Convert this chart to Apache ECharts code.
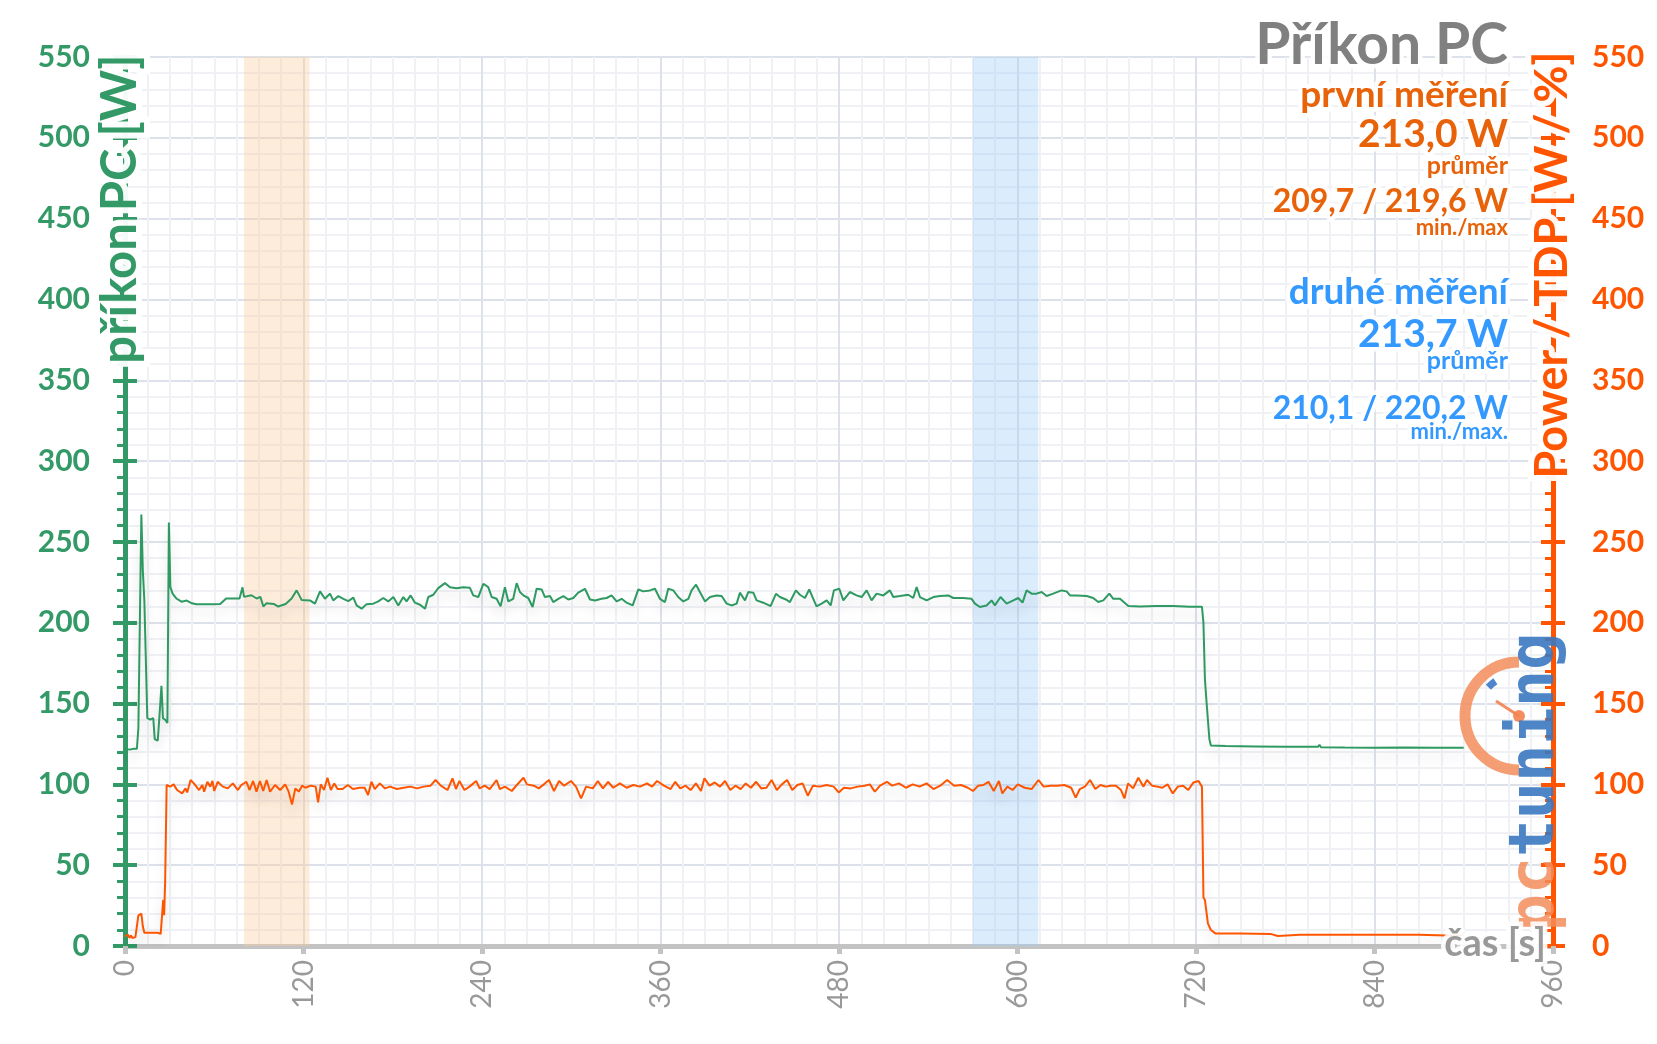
<!DOCTYPE html>
<html>
<head>
<meta charset="utf-8">
<script src="https://cdn.jsdelivr.net/npm/echarts@6/dist/echarts.min.js"></script>
<style>html,body{margin:0;padding:0;background:#fff}#c{width:1657px;height:1044px}</style>
</head>
<body>
<div id="c"></div>
<script>
// ---- data ----
const greenT = [0,3,6,8,9,10,11,12,13,14,15,17,19,20,22,23,24.5,25.5,27,28.5,29.5,30.5,32,34.5,38,41.5,45,48,55,60,64,68,73,77,79,80,85,88.5,91,93,95,100,103,108,112,115.4,118.8,120,124.3,127.7,131.1,134.4,137.8,140,143.4,146.8,150.1,153.5,155.7,159.1,162.4,166.9,170.3,173.6,177,180.4,183.7,187.1,189.3,192,194.9,198.3,201.7,203.9,207.3,210.6,215.1,218.5,222.9,227.4,231.9,234.1,237.5,240.9,244.2,246.5,249.8,252.5,255.4,257.7,261,263.3,265.5,267.8,271.1,274,276.7,280.1,282.3,285.7,287.9,291.3,294.7,298,301.4,304.7,309.2,312.6,316,320.4,323.8,327.1,330.5,333.9,337.2,341.3,345.1,348.4,352.9,356.3,359.6,363,365.2,368.6,371.9,375.3,378.7,380.9,383.9,386.5,389.9,393.3,397.7,401.1,404.5,407.8,411.2,413.4,416.8,419,422.4,424.6,429.1,434,437.6,440.3,444.3,447,451,453.7,457.1,460,462.7,464.9,468.3,471.7,474.4,476.6,480.2,482.9,487.3,491.8,495.2,498.6,501.9,505.3,509.8,514.2,516.5,521,526.6,529.9,532.2,534.4,538.9,543.4,547.9,553.5,556.8,563.5,569.1,571.4,574.7,579.2,582.6,584.8,588.6,592.7,597.2,600.5,603.4,606.1,609.5,612.8,616.2,619.6,624,629.6,633,635.3,639.7,646.5,650.9,654.3,657.7,661.7,664.4,668.9,674.5,682.3,693.5,704.7,715.9,724,725,726,727,728,729,730,740,760,780,802,803,804,820,840,860,880,900];
const greenV = [122,121.5,122,122,135,136,267,232,214,214,141,140,141,128,127,140,161,141,140,138,262,222,218,215,213,213.7,212,211.4,211.4,211.4,211.6,215,215,215,221.9,216,217,215,216,210,212,211.6,210,211.6,215,220,214,213.2,213.8,211.8,219.4,214.8,218,213.8,216.5,214.8,213.4,215.5,210.7,208.7,211.5,211.8,213.2,215.3,213.2,215.9,210.7,215.9,213.2,216.9,212.4,211.1,208.7,215.9,217.3,221.4,224.5,222,221.4,222,221.6,216.9,215.9,224.1,222,215.9,214.8,210.1,222,213.2,214.8,224.5,219,216.9,215.3,209.7,221,220.6,215.9,216.5,212.8,214.8,216.5,214.4,215.3,218.6,221,214.4,213.8,214.8,215.3,216.9,213.2,214.8,212.4,210.7,220.6,219.4,220,221,214.8,212.8,221,220,215.9,213.2,214.8,220,223.5,219,213.2,215.9,216.9,216.5,211.8,210.7,211.8,218.6,213.8,219,218.6,213.8,212.4,210.3,217.9,215.9,214.4,212.8,220,217.3,215.3,220.6,214.8,210.1,211.8,213.8,210.7,220,221,213.8,219,216.9,215.9,220,213.8,218,216.9,220,215.9,216.5,217.3,215.3,222,215.9,213.8,215.9,216.5,216.9,215.3,215.3,214.8,211.8,209.7,210.7,213.8,210.7,215.9,211.8,213.8,215.3,212.4,220,218,218,219,216.5,218,220,219.4,216.9,216.9,216.5,215.3,212.8,213.8,218,214.8,214.8,210.3,210.1,210.3,210.3,209.9,209.9,200,165,152,140,128,124,123.7,123.5,123.3,123.2,124.5,123,122.8,122.7,122.8,122.6,122.7];

const orangeT = [0,1,2,3,4,5,6,7,8,9,10,11,12,13,16,19,22,23,24,25,25.7,26.3,27,28,30.4,32.7,35,38.4,40.7,41.8,44.1,46.3,49.8,52,53.2,55.4,57.3,58.8,60,62.3,65.7,69.1,72.5,75.9,78.2,81.6,83.8,86.1,88.4,90.7,92.9,95.2,97.5,100.9,104.3,107.7,110,112.3,114.5,116.8,119.1,121.3,124.8,128.2,129.8,131.6,133.8,136.1,138.4,140.7,142.9,146.3,149.8,153.2,157.7,161.1,163.4,165.7,167.9,171.3,174.8,178.2,182.7,187.3,191.8,196.3,200.9,205.4,208.8,212.3,216.8,220.2,222.5,224.8,228.2,231.6,236.1,238.4,241.8,245.2,249.8,252,255.4,260,263.4,267.9,270.2,274.8,278.2,281.6,285,288.4,291.8,295.2,299.8,303.2,306.6,310,314.5,317.9,321.3,324.8,328.2,332.7,337.2,341.8,346.3,350.9,354.3,357.7,362.3,366.8,369.9,373.3,376.8,380.3,383.8,387.2,389.5,393,396.5,400,403.4,406.9,410.4,413.9,417.3,420.8,424.3,427.7,431.2,434.7,438.2,441.6,445.1,448.6,452,455.5,459,462.5,467.1,471.7,476.4,479.8,483.3,487.9,492.6,497.2,500.7,504.1,507.6,512.2,515.7,520.3,525,529.6,534.2,538.9,543.5,548.1,552.7,557.4,562,566.6,570.1,573.6,577,580.5,584,587.5,589.8,593.2,596.7,600.2,604.8,609.5,614.1,617.6,622.2,626.8,631.4,636.1,639.1,641.9,645.3,648.8,652.3,655.8,659.2,662.7,666.2,669.6,671.9,674.3,677.7,681.2,684.7,687,690.5,693.9,697.4,700.9,704.4,707.8,711.3,714.8,718.3,721.7,724,725,726,727,728,730,733,750,770,775,790,791,810,811,830,831,850,851,870,871,900];
const orangeV = [6,5,7,5,6.5,5,6,5.5,6,19,20,20,12,8.2,8.2,8.2,8.2,7,7.5,20,28.5,19,40,99.6,98.6,100,96.5,94.4,97.5,95,102.7,100.6,96.5,99.6,95.5,101.6,98.6,102.1,95.9,101.6,98.6,97.5,100.6,96.5,99.6,101.6,96.5,102.1,95.5,102.1,95.9,102.7,95.5,99.6,96.5,100,95.5,87.6,97.5,95.5,99.2,97.9,99.2,98.6,88.9,100,96.5,104.1,96.5,100.6,97.1,97.1,99.6,97.1,97.9,97.9,93.4,101.6,97.1,100.6,97.5,98.6,97.1,97.9,98.6,97.5,98.6,99.2,102.7,99.2,96.5,103.7,97.1,102.1,96.5,98.6,102.1,97.5,99.2,97.1,102.7,97.1,98.6,95.9,99.6,104.1,100,99.2,97.5,100,102.7,95.9,102.1,99.2,102.1,98.6,91.3,98.6,97.5,102.1,97.5,101.6,97.9,100.6,97.9,99.6,98.6,100.6,98.6,102.1,99.2,97.1,101.6,97.5,99.2,96.5,100.6,95.9,103.7,99.2,101.2,98.6,102.1,96.5,99.2,97.1,100.6,97.9,101.6,97.5,97.9,102.7,96.5,100,102.7,96.5,99.6,100.6,93,99.2,98.6,99.6,98.6,95,97.9,97.5,98.6,99.2,100,95.5,99.2,101.6,99.2,100.6,97.9,100,98.6,100.6,97.1,99.2,102.7,99.2,99.6,97.9,95.9,99.2,99.6,101.6,95.9,102.1,94.4,98.6,96.5,100,97.9,97.1,102.7,98.6,99.2,99.2,99.6,97.9,91.8,97.1,98.6,102.7,97.1,99.6,98.6,99.2,99.2,96.5,91.3,100.6,97.5,104.1,98.6,102.7,99.2,98.6,97.9,100,94.4,98.6,99.2,96.5,101.2,102.1,98.6,30,28.4,21.2,14,9.9,7.8,7.8,7.5,6.2,7,6.2,7,6.2,7,6.2,7,6.2,7,6.2,6.2];

const xRange = [0, 960], xStep = 120;
const yRange = [0, 550], yStep = 50;
const bandFirst = [80, 124];
const bandSecond = [570, 614];

const chartTitle = 'Příkon PC';
const leftAxisName = 'příkon PC [W]';
const rightAxisName = 'Power / TDP [W / %]';
const xAxisName = 'čas [s]';
const firstLabels = ['první měření', '213,0 W', 'průměr', '209,7 / 219,6 W', 'min./max'];
const secondLabels = ['druhé měření', '213,7 W', 'průměr', '210,1 / 220,2 W', 'min./max.'];

// ---- style ----
const GREEN = '#339966', ORANGE = '#ff5500', TXT_OR = '#e8620a', BLUE = '#3399ff', GRAY = '#999999';
const FONT = 'Lato';

const pair = (ts, vs) => ts.map((t, i) => [t, vs[i]]);

function haloText(text, x, y, font, color, align, z) {
  const base = { text, x, y, font, textAlign: align, textVerticalAlign: 'middle' };
  return [
    { type: 'text', z: z, silent: true,
      style: Object.assign({}, base, { fill: '#fff', stroke: 'rgba(255,255,255,0.9)', lineWidth: 9, shadowBlur: 10, shadowColor: '#fff' }) },
    { type: 'text', z: z + 1, silent: true,
      style: Object.assign({}, base, { fill: color }) }
  ];
}
function rotText(text, cx, cy, font, color, z) {
  const mk = (style, zz) => ({ type: 'text', x: cx, y: cy, rotation: Math.PI / 2, z: zz, silent: true,
    style: Object.assign({ text, x: 0, y: 0, font, textAlign: 'center', textVerticalAlign: 'middle' }, style) });
  return [
    mk({ fill: '#fff', stroke: 'rgba(255,255,255,0.95)', lineWidth: 12, shadowBlur: 12, shadowColor: '#fff' }, z),
    mk({ fill: color }, z + 1)
  ];
}

const graphics = [];
graphics.push(...haloText(chartTitle, 1508, 46, `bold 57px ${FONT}`, '#808080', 'right', 100));
const firstY = [95, 134, 166, 202, 228];
const secondY = [292, 334, 361, 409, 432];
const sizes = [37, 39, 25, 32, 22];
firstLabels.forEach((t, i) => graphics.push(...haloText(t, 1508, firstY[i], `bold ${sizes[i]}px ${FONT}`, TXT_OR, 'right', 100)));
secondLabels.forEach((t, i) => graphics.push(...haloText(t, 1508, secondY[i], `bold ${sizes[i]}px ${FONT}`, BLUE, 'right', 100)));
graphics.push(...rotText(leftAxisName, 120, 209, `bold 49px ${FONT}`, GREEN, 100));
graphics.push(...rotText(rightAxisName, 1552, 265, `bold 45px ${FONT}`, ORANGE, 100));
graphics.push(...haloText(xAxisName, 1546, 944, `bold 38px ${FONT}`, GRAY, 'right', 100));

// logo watermark (pctuning)
graphics.push({
  type: 'group', silent: true,
  children: [
    { type: 'arc', shape: { cx: 1519, cy: 716, r: 54, startAngle: Math.PI / 2, endAngle: Math.PI * 1.5, clockwise: true },
      style: { stroke: 'rgba(243,140,90,0.85)', fill: null, lineWidth: 11 }, z: 90 },
    { type: 'arc', shape: { cx: 1519, cy: 716, r: 42, startAngle: Math.PI * 1.24, endAngle: Math.PI * 1.31, clockwise: true },
      style: { stroke: 'rgba(60,120,200,0.9)', fill: null, lineWidth: 7 }, z: 91 },
    { type: 'line', shape: { x1: 1519, y1: 716, x2: 1496, y2: 701 }, style: { stroke: 'rgba(243,130,80,0.9)', lineWidth: 3 }, z: 91 },
    { type: 'circle', shape: { cx: 1519, cy: 716, r: 6 }, style: { fill: 'rgba(243,130,80,0.9)' }, z: 91 },
    { type: 'text', x: 1537, y: 782, rotation: Math.PI / 2, z: 92,
      style: { text: '{a|pc}{b|tuning}', x: 0, y: 0, textAlign: 'center', textVerticalAlign: 'middle',
        rich: { a: { fill: 'rgba(243,140,90,0.85)', font: 'bold 62px "DejaVu Sans Mono"' },
                b: { fill: 'rgba(58,120,192,0.9)', font: 'bold 62px "DejaVu Sans Mono"' } } } }
  ]
});

const chart = echarts.init(document.getElementById('c'), null, { renderer: 'canvas' });

const yBase = { type: 'value', min: yRange[0], max: yRange[1], interval: yStep };

chart.setOption({
  animation: false,
  backgroundColor: '#ffffff',
  grid: { left: 125, right: 104, top: 57, bottom: 98, containLabel: false },
  xAxis: {
    type: 'value', min: xRange[0], max: xRange[1], interval: xStep,
    axisLine: { show: true, onZero: false, lineStyle: { color: '#c3c3c3', width: 5 } },
    axisTick: { show: true, length: 8, lineStyle: { color: '#c3c3c3', width: 5 } },
    axisLabel: { rotate: 90, color: GRAY, fontSize: 28, fontFamily: FONT, margin: 14 },
    splitLine: { show: true, lineStyle: { color: '#dde1e9', width: 2 } },
    minorTick: { show: false, splitNumber: 8 },
    minorSplitLine: { show: true, lineStyle: { color: '#eff1f5', width: 2 } }
  },
  yAxis: [
    Object.assign({}, yBase, {
      position: 'left',
      axisLine: { show: true, lineStyle: { color: GREEN, width: 5 } },
      axisTick: { show: true, inside: false, length: 12, lineStyle: { color: GREEN, width: 4 } },
      minorTick: { show: true, splitNumber: 5, length: 8, lineStyle: { color: GREEN, width: 3 } },
      axisLabel: { color: GREEN, fontSize: 30, fontWeight: 'bold', fontFamily: FONT, margin: 35 },
      splitLine: { show: true, lineStyle: { color: '#dde1e9', width: 2 } },
      minorSplitLine: { show: true, lineStyle: { color: '#eff1f5', width: 2 } }
    }),
    Object.assign({}, yBase, {
      position: 'right',
      axisLine: { show: true, lineStyle: { color: ORANGE, width: 5 } },
      axisTick: { show: true, inside: true, length: 12, lineStyle: { color: ORANGE, width: 4 } },
      minorTick: { show: true, splitNumber: 5, length: 8, lineStyle: { color: ORANGE, width: 3 } },
      axisLabel: { color: ORANGE, fontSize: 30, fontWeight: 'bold', fontFamily: FONT, margin: 39 },
      splitLine: { show: false }
    }),
    Object.assign({}, yBase, {
      position: 'left',
      axisLine: { show: false },
      axisTick: { show: true, inside: true, length: 12, lineStyle: { color: GREEN, width: 4 } },
      axisLabel: { show: false }, splitLine: { show: false }
    }),
    Object.assign({}, yBase, {
      position: 'right',
      axisLine: { show: false },
      axisTick: { show: true, inside: false, length: 12, lineStyle: { color: ORANGE, width: 4 } },
      axisLabel: { show: false }, splitLine: { show: false }
    })
  ],
  series: [
    {
      type: 'line', name: 'bands', data: [], yAxisIndex: 0, silent: true,
      markArea: {
        silent: true,
        data: [
          [{ xAxis: bandFirst[0], itemStyle: { color: 'rgba(252,205,160,0.38)' } }, { xAxis: bandFirst[1] }],
          [{ xAxis: bandSecond[0], itemStyle: { color: 'rgba(160,205,250,0.38)' } }, { xAxis: bandSecond[1] }]
        ]
      }
    },
    {
      type: 'line', name: leftAxisName, yAxisIndex: 0, data: pair(greenT, greenV),
      showSymbol: false, symbol: 'none', z: 5,
      lineStyle: { color: '#2e9a62', width: 2, shadowColor: 'rgba(0,0,0,0.16)', shadowBlur: 12, shadowOffsetY: 8 }
    },
    {
      type: 'line', name: rightAxisName, yAxisIndex: 1, data: pair(orangeT, orangeV),
      showSymbol: false, symbol: 'none', z: 5,
      lineStyle: { color: ORANGE, width: 2, shadowColor: 'rgba(0,0,0,0.16)', shadowBlur: 12, shadowOffsetY: 8 }
    }
  ],
  graphic: { elements: graphics }
});
</script>
</body>
</html>
